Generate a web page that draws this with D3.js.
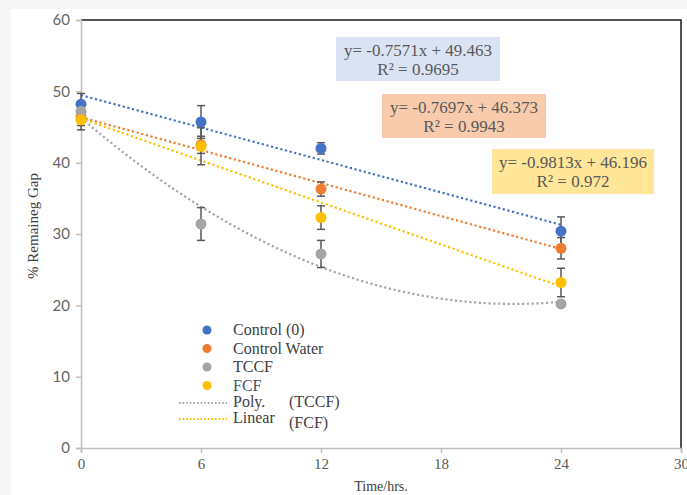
<!DOCTYPE html>
<html>
<head>
<meta charset="utf-8">
<script src="https://cdn.jsdelivr.net/npm/d3@7"></script>
<style>
  body { margin: 0; background: #f6f6f6; overflow: hidden; }
  svg { display: block; }
  .serif { font-family: "Liberation Serif", "DejaVu Serif", serif; }
</style>
</head>
<body>
<div id="chart"></div>
<script>
// time points (hours)
const times = [0, 6, 12, 24]

// series means and error bars
const seriesNames = ['Control (0)', 'Control Water', 'TCCF', 'FCF']
const control0 = [48.2, 45.7, 42.0, 30.4]
const control0Err = [1.5, 2.3, 0.8, 2.0]
const controlWater = [46.4, 42.5, 36.3, 28.0]
const controlWaterErr = [1.2, 1.2, 1.0, 1.5]
const tccf = [47.2, 31.4, 27.2, 20.2]
const tccfErr = [1.0, 2.3, 1.9, 0.4]
const fcf = [46.0, 42.3, 32.3, 23.2]
const fcfErr = [1.4, 2.6, 1.65, 2.0]

// linear trendline coefficients, as printed on the chart
const slopes = [-0.7571, -0.7697, -0.9813]
const intercepts = [49.463, 46.373, 46.196]
const rSquared = ['0.9695', '0.9943', '0.972']

const xTicks = [0, 6, 12, 18, 24, 30]
const yTicks = [0, 10, 20, 30, 40, 50, 60]

;(function () {
  let width = 687,
    height = 495

  let margin = { top: 20, right: 6, bottom: 47, left: 81 }

  let colors = ['#4472c4', '#ed7d31', '#a5a5a5', '#ffc000']
  let boxFills = ['#dae3f3', '#f8cbad', '#ffe699']

  let svg = d3.select('#chart')
    .append('svg')
    .attr('width', width)
    .attr('height', height)

  // white chart area on the light page
  svg.append('rect')
    .attr('x', 11).attr('y', 9)
    .attr('width', width - 11).attr('height', height - 9)
    .attr('fill', '#ffffff')

  let x = d3.scaleLinear().domain([0, 30]).range([margin.left, width - margin.right])
  let y = d3.scaleLinear().domain([0, 60]).range([height - margin.bottom, margin.top])

  // top and right frame
  svg.append('path')
    .attr('d', `M${x(0)},${y(60)}H${x(30)}V${y(0)}`)
    .attr('fill', 'none')
    .attr('stroke', '#1a1a1a')
    .attr('stroke-width', 1.5)

  let yAxis = svg.append('g')
    .attr('transform', `translate(${x(0)},0)`)
    .call(d3.axisLeft(y).tickValues(yTicks).tickSize(5).tickPadding(6))
  yAxis.selectAll('path, line').attr('stroke', '#bfbfbf').attr('stroke-width', 1.5)
  yAxis.selectAll('text')
    .attr('fill', '#666')
    .style('font-family', 'Lato, sans-serif')
    .style('font-size', '15px')

  let xAxis = svg.append('g')
    .attr('transform', `translate(0,${y(0)})`)
    .call(d3.axisBottom(x).tickValues(xTicks).tickSize(5).tickPadding(5))
  xAxis.selectAll('path, line').attr('stroke', '#bfbfbf').attr('stroke-width', 1.5)
  xAxis.selectAll('text')
    .attr('class', 'serif')
    .attr('font-family', null)
    .attr('fill', '#595959')
    .style('font-size', '15px')

  svg.append('text')
    .attr('class', 'serif')
    .attr('x', 381).attr('y', 491)
    .attr('text-anchor', 'middle')
    .attr('fill', '#404040')
    .style('font-size', '14px')
    .text('Time/hrs.')

  svg.append('text')
    .attr('class', 'serif')
    .attr('transform', 'translate(38,226) rotate(-90)')
    .attr('text-anchor', 'middle')
    .attr('fill', '#404040')
    .style('font-size', '15px')
    .text('% Remaineg Gap')

  let dotted = '2.2,2.6'

  // linear trendlines for control, control water, FCF
  let linearColors = [colors[0], colors[1], colors[3]]
  slopes.forEach((m, i) => {
    svg.append('line')
      .attr('x1', x(0)).attr('y1', y(intercepts[i]))
      .attr('x2', x(24)).attr('y2', y(intercepts[i] + m * 24))
      .attr('stroke', linearColors[i])
      .attr('stroke-width', 2.2)
      .attr('stroke-dasharray', dotted)
  })

  // 2nd order polynomial least squares fit for TCCF
  function polyFit(xs, ys) {
    let s = [0, 0, 0, 0, 0], t = [0, 0, 0]
    xs.forEach((xv, i) => {
      for (let k = 0; k < 5; k++) s[k] += Math.pow(xv, k)
      for (let k = 0; k < 3; k++) t[k] += Math.pow(xv, k) * ys[i]
    })
    let A = [[s[0], s[1], s[2], t[0]], [s[1], s[2], s[3], t[1]], [s[2], s[3], s[4], t[2]]]
    for (let i = 0; i < 3; i++) {
      for (let j = i + 1; j < 3; j++) {
        let f = A[j][i] / A[i][i]
        for (let k = i; k < 4; k++) A[j][k] -= f * A[i][k]
      }
    }
    let c = [0, 0, 0]
    for (let i = 2; i >= 0; i--) {
      let v = A[i][3]
      for (let k = i + 1; k < 3; k++) v -= A[i][k] * c[k]
      c[i] = v / A[i][i]
    }
    return c
  }
  let pc = polyFit(times, tccf)
  let polyPts = d3.range(0, 24.01, 0.25).map(t => [t, pc[0] + pc[1] * t + pc[2] * t * t])
  svg.append('path')
    .datum(polyPts)
    .attr('d', d3.line().x(d => x(d[0])).y(d => y(d[1])).curve(d3.curveBasis))
    .attr('fill', 'none')
    .attr('stroke', colors[2])
    .attr('stroke-width', 2.2)
    .attr('stroke-dasharray', dotted)

  let allValues = [control0, controlWater, tccf, fcf]
  let allErrs = [control0Err, controlWaterErr, tccfErr, fcfErr]

  // error bars
  allValues.forEach((vals, s) => {
    vals.forEach((v, i) => {
      let e = allErrs[s][i]
      let g = svg.append('g').attr('stroke', '#595959').attr('stroke-width', 1.5)
      g.append('line')
        .attr('x1', x(times[i])).attr('x2', x(times[i]))
        .attr('y1', y(v + e)).attr('y2', y(v - e))
      ;[v + e, v - e].forEach(ev => {
        g.append('line')
          .attr('x1', x(times[i]) - 4).attr('x2', x(times[i]) + 4)
          .attr('y1', y(ev)).attr('y2', y(ev))
      })
    })
  })

  // markers
  allValues.forEach((vals, s) => {
    svg.selectAll('.pt' + s)
      .data(vals)
      .enter()
      .append('circle')
      .attr('class', 'pt' + s)
      .attr('cx', (d, i) => x(times[i]))
      .attr('cy', d => y(d))
      .attr('r', 5.5)
      .attr('fill', colors[s])
  })

  // equation boxes
  let boxes = [
    { x: 336, y: 37, w: 164, h: 44 },
    { x: 382, y: 94, w: 164, h: 44 },
    { x: 492, y: 149, w: 162, h: 45 }
  ]
  boxes.forEach((b, i) => {
    svg.append('rect')
      .attr('x', b.x).attr('y', b.y)
      .attr('width', b.w).attr('height', b.h)
      .attr('fill', boxFills[i])
    let t = svg.append('text')
      .attr('class', 'serif')
      .attr('text-anchor', 'middle')
      .attr('fill', '#595959')
      .style('font-size', '17px')
    t.append('tspan')
      .attr('x', b.x + b.w / 2).attr('y', b.y + 19)
      .text(`y= ${slopes[i]}x + ${intercepts[i]}`)
    t.append('tspan')
      .attr('x', b.x + b.w / 2).attr('y', b.y + 38)
      .text(`R² = ${rSquared[i]}`)
  })

  // legend
  let legend = svg.append('g')
  seriesNames.forEach((name, i) => {
    let ly = 330 + i * 18.5
    legend.append('circle')
      .attr('cx', 207).attr('cy', ly)
      .attr('r', 4.5)
      .attr('fill', colors[i])
    legend.append('text')
      .attr('class', 'serif')
      .style('font-size', '16px')
      .attr('x', 233).attr('y', ly + 5)
      .attr('fill', i === 3 ? '#44546a' : '#404040')
      .text(name)
  })
  let trendRows = [
    { label: 'Poly.', tag: '(TCCF)', color: colors[2], ly: 403, dy: 0 },
    { label: 'Linear', tag: '(FCF)', color: colors[3], ly: 419, dy: 5 }
  ]
  trendRows.forEach(r => {
    legend.append('line')
      .attr('x1', 179).attr('x2', 227)
      .attr('y1', r.ly).attr('y2', r.ly)
      .attr('stroke', r.color)
      .attr('stroke-width', 2)
      .attr('stroke-dasharray', '1.6,2')
    legend.append('text')
      .attr('class', 'serif')
      .style('font-size', '16px')
      .attr('x', 233).attr('y', r.ly + 4)
      .attr('fill', '#404040')
      .text(r.label)
    legend.append('text')
      .attr('class', 'serif')
      .style('font-size', '16px')
      .attr('x', 289).attr('y', r.ly + 4 + r.dy)
      .attr('fill', '#404040')
      .text(r.tag)
  })
})()
</script>
</body>
</html>
